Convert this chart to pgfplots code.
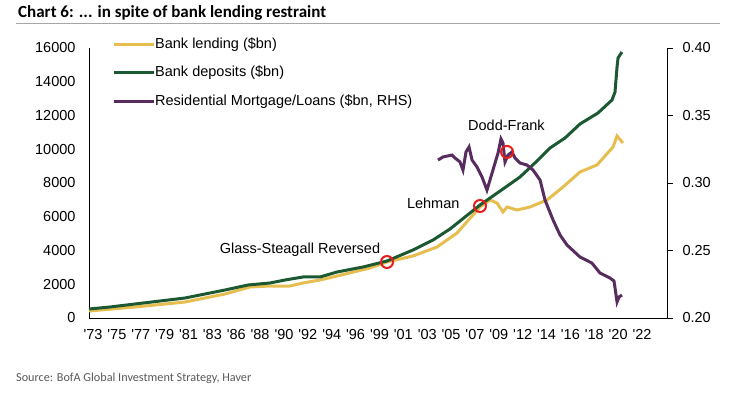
\documentclass[border=0pt]{standalone}
\usepackage{pgfplots}
\pgfplotsset{compat=1.18}
\usepackage{fontspec}
\setmainfont{Liberation Sans}
\newfontfamily\calibri{Carlito}
\definecolor{cyel}{RGB}{230,190,80}
\definecolor{cgrn}{RGB}{28,88,50}
\definecolor{cpur}{RGB}{88,44,94}
\definecolor{cred}{RGB}{232,28,28}
\newcommand\q{\textquotesingle}
\pgfplotsset{
  every tick label/.append style={font=\fontsize{14.5}{16}\selectfont},
}
\begin{document}
\begin{tikzpicture}
\useasboundingbox (-89pt,-75pt) rectangle (648pt,318pt);
\node[anchor=west, font=\calibri\bfseries\fontsize{17}{20}\selectfont, inner sep=0pt] at (-71pt,305pt) {Chart 6: ... in spite of bank lending restraint};
\draw[gray!70, line width=0.8pt] (-73pt,295pt) -- (631pt,295pt);
\node[anchor=west, font=\calibri\fontsize{12.2}{14}\selectfont, text=black!65, inner sep=0pt] at (-73pt,-60pt) {Source: BofA Global Investment Strategy, Haver};
\begin{axis}[
  at={(0pt,0pt)}, anchor=south west, scale only axis,
  width=578pt, height=270pt,
  xmin=1972.64, xmax=2024.23, ymin=0, ymax=16000,
  axis x line*=bottom, axis y line*=left,
  axis line style={-, line width=0.9pt, black},
  major tick length=0pt,
  ytick={0,2000,...,16000},
  scaled y ticks=false,
  /pgf/number format/assume math mode=true,
  /pgf/number format/1000 sep={},
  yticklabel style={xshift=-10pt},
  xtick={1973,1975.130,1977.261,1979.391,1981.522,1983.652,1985.783,1987.913,1990.043,1992.174,1994.304,1996.435,1998.565,2000.696,2002.826,2004.957,2007.087,2009.217,2011.348,2013.478,2015.609,2017.739,2019.870,2022.000},
  xticklabels={\q73,\q75,\q77,\q79,\q81,\q83,\q86,\q88,\q90,\q92,\q94,\q96,\q99,\q01,\q03,\q05,\q07,\q09,\q12,\q14,\q16,\q18,\q20,\q22},
  xticklabel style={yshift=-8pt},
  legend style={at={(rel axis cs:0.0398,1.039)}, anchor=north west, draw=none, fill=none, inner sep=0pt, row sep=15pt,
    nodes={inner sep=0pt, text height=10.5pt, text depth=3pt, font=\fontsize{14.5}{16}\selectfont}, cells={anchor=west}},
  legend image code/.code={\draw[#1, line width=3pt] (0pt,0pt) -- (40pt,0pt);},
  legend cell align=left,
]
\addplot[cyel, line width=3pt] coordinates {
(1972.64,415) (1976.75,652) (1981.21,948) (1984.78,1422) (1987.01,1837) (1988.80,1896) (1990.57,1896)
(1991.74,2074) (1993.26,2252) (1994.78,2489) (1997.72,2963) (1999.24,3319) (2001.56,3674) (2003.70,4207)
(2005.49,5037) (2007.54,6578) (2008.43,6993) (2009.06,6815) (2009.59,6281) (2009.95,6578) (2010.84,6400)
(2012.00,6578) (2013.52,6993) (2014.95,7763) (2016.46,8652) (2017.98,9067) (2019.41,10133) (2019.77,10785) (2020.30,10370)
};
\addlegendentry{Bank lending (\$bn)}
\addplot[cgrn, line width=3pt] coordinates {
(1972.64,533) (1974.52,652) (1976.75,830) (1978.98,1007) (1981.21,1185) (1983.00,1422) (1984.78,1659)
(1986.83,1956) (1988.80,2074) (1990.14,2252) (1991.74,2430) (1993.26,2430) (1994.78,2726) (1997.10,3022)
(1999.24,3378) (2001.56,4030) (2003.35,4622) (2004.86,5274) (2006.20,5985) (2007.54,6696) (2009.59,7645)
(2011.11,8356) (2012.63,9304) (2013.79,10074) (2015.13,10667) (2016.46,11496) (2018.07,12148)
(2019.32,12919) (2019.59,13393) (2019.77,14874) (2019.86,15408) (2020.21,15763)
};
\addlegendentry{Bank deposits (\$bn)}
\addlegendimage{cpur, line width=3pt}
\addlegendentry{Residential Mortgage/Loans (\$bn, RHS)}
\addplot[cred, only marks, mark=o, mark size=6pt, line width=2pt, forget plot] coordinates {(1999.24,3319) (2007.54,6637)};
\node[anchor=center, font=\fontsize{14.5}{16}\selectfont] at (axis cs:1991.47,4030) {Glass-Steagall Reversed};
\node[anchor=east, font=\fontsize{14.5}{16}\selectfont] at (axis cs:2006.02,6815) {Lehman};
\node[anchor=center, font=\fontsize{14.5}{16}\selectfont] at (axis cs:2009.90,11437) {Dodd-Frank};
\end{axis}
\begin{axis}[
  at={(0pt,0pt)}, anchor=south west, scale only axis,
  width=578pt, height=270pt,
  xmin=1972.64, xmax=2024.23, ymin=0.2, ymax=0.4,
  axis x line=none, axis y line*=right,
  axis line style={-, line width=0.9pt, black},
  ytick={0.2,0.25,0.3,0.35,0.4},
  tick align=outside, major tick length=6pt,
  tick style={line width=0.9pt, black},
  /pgf/number format/assume math mode=true,
  yticklabel style={/pgf/number format/fixed, /pgf/number format/fixed zerofill, /pgf/number format/precision=2, xshift=6pt},
]
\addplot[cpur, line width=3pt] coordinates {
(2003.79,0.3170) (2004.24,0.3193) (2005.04,0.3207) (2005.31,0.3185) (2005.75,0.3156) (2006.02,0.3096)
(2006.29,0.3230) (2006.56,0.3267) (2006.83,0.3170) (2007.27,0.3119) (2007.72,0.3044) (2008.16,0.2948)
(2008.43,0.3022) (2008.88,0.3148) (2009.15,0.3222) (2009.41,0.3326) (2009.59,0.3296) (2009.77,0.3156)
(2010.04,0.3207) (2010.40,0.3230) (2010.66,0.3185) (2011.11,0.3148) (2011.73,0.3133) (2012.27,0.3096)
(2012.90,0.3022) (2013.34,0.2874) (2014.06,0.2726) (2014.68,0.2615) (2015.30,0.2541) (2016.46,0.2452)
(2017.53,0.2407) (2018.25,0.2333) (2019.14,0.2296) (2019.50,0.2274) (2019.77,0.2119) (2019.95,0.2156) (2020.21,0.2170)
};
\addplot[cred, only marks, mark=o, mark size=6pt, line width=2pt] coordinates {(2009.95,0.3230)};
\end{axis}
\end{tikzpicture}
\end{document}
